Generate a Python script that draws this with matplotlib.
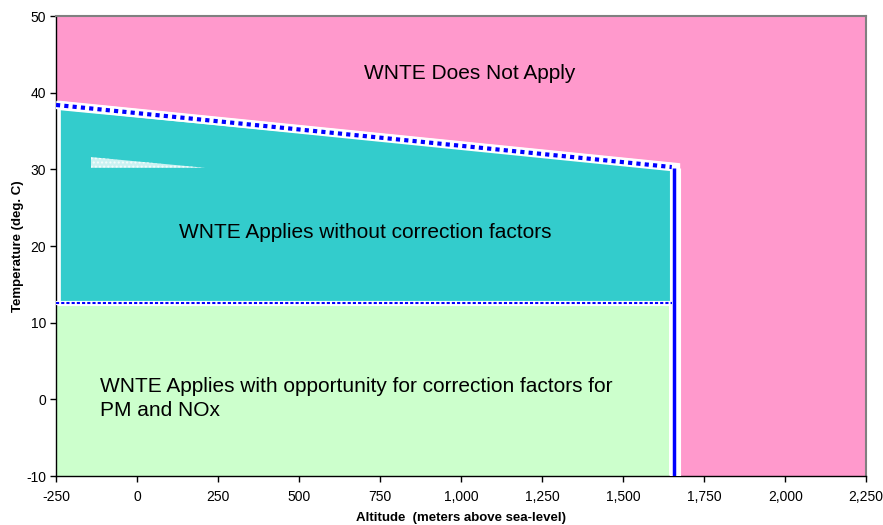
import matplotlib
matplotlib.use("Agg")
import matplotlib.pyplot as plt
from matplotlib.ticker import FuncFormatter

plt.rcParams['font.family'] = ['Liberation Sans', 'DejaVu Sans']
plt.rcParams['axes.unicode_minus'] = False

# boundary data (altitude in m, temperature in deg C)
upper_alt = [-250, 1650]
upper_temp = [38.4, 30.3]
teal_alt = [-235, -235, 1645, 1645]
teal_temp = [12.7, 37.7, 30.1, 12.7]
green_alt = [-250, 1642]
green_temp = [-10, 12.2]
lower_alt = [-250, 1650]
lower_temp = [12.6, 12.6]
vert_alt = [1657, 1657]
vert_temp = [-10, 30.2]
white_alt = [-250, -250, 1676, 1676]
white_temp = [-10, 39.0, 30.8, -10]
patch_alt = [-142, -142, 210]
patch_temp = [30.2, 31.6, 30.2]

x_ticks = list(range(-250, 2251, 250))
y_ticks = list(range(-10, 51, 10))

fig = plt.figure(figsize=(8.83, 5.25), dpi=100)
ax = fig.add_axes([0.0634, 0.0933, 0.9176, 0.8762])
ax.set_facecolor('#FF99CC')

# white area under the "does not apply" region
ax.fill(white_alt, white_temp, color='white', lw=0, zorder=1)
# teal: applies without correction
ax.fill(teal_alt, teal_temp, color='#33CCCC', lw=0, zorder=2)
# light green: correction factors region
ax.fill_between(green_alt, green_temp[0], green_temp[1], color='#CCFFCC', lw=0, zorder=2)
# small white hatched artefact
ax.fill(patch_alt, patch_temp, facecolor='white', alpha=0.75, hatch='....',
        edgecolor='white', lw=0, zorder=3)

# boundary lines
ax.plot(upper_alt, upper_temp, color='white', lw=6, solid_capstyle='butt', zorder=4)
ax.plot(upper_alt, upper_temp, color='#0000FF', lw=3, linestyle=(0, (1, 1)),
        dash_capstyle='butt', zorder=5)
ax.plot(lower_alt, lower_temp, color='white', lw=3, solid_capstyle='butt', zorder=4)
ax.plot(lower_alt, lower_temp, color='#0000FF', lw=1.5, linestyle=(0, (1.5, 1)),
        dash_capstyle='butt', zorder=5)
ax.plot([1660, 1660], vert_temp, color='white', lw=8, solid_capstyle='butt', zorder=4)
ax.plot(vert_alt, vert_temp, color='#0000FF', lw=2.5, solid_capstyle='butt', zorder=5)

ax.text(1028, 42.5, 'WNTE Does Not Apply', fontsize=15, ha='center', va='center', zorder=6)
ax.text(704, 21.8, 'WNTE Applies without correction factors', fontsize=15,
        ha='center', va='center', zorder=6)
ax.text(-114, 0.1, 'WNTE Applies with opportunity for correction factors for\nPM and NOx',
        fontsize=15, ha='left', va='center', linespacing=1.32, zorder=6)

ax.set_xlim(-250, 2250)
ax.set_ylim(-10, 50)
ax.set_xticks(x_ticks)
ax.set_yticks(y_ticks)
ax.xaxis.set_major_formatter(FuncFormatter(lambda v, p: f'{v:,.0f}'))
ax.tick_params(labelsize=10, direction='out', length=4, width=1, colors='black')
ax.tick_params(axis='x', pad=6)
ax.tick_params(axis='y', pad=3)
ax.set_xlabel('Altitude  (meters above sea-level)', fontsize=9.5, fontweight='bold', labelpad=6)
ax.set_ylabel('Temperature (deg. C)', fontsize=9.5, fontweight='bold', labelpad=1.5)

for side in ['left', 'bottom']:
    ax.spines[side].set_color('black')
    ax.spines[side].set_linewidth(1)
for side in ['top', 'right']:
    ax.spines[side].set_color('#808080')
    ax.spines[side].set_linewidth(1.5)

fig.savefig('out.png', dpi=100)
